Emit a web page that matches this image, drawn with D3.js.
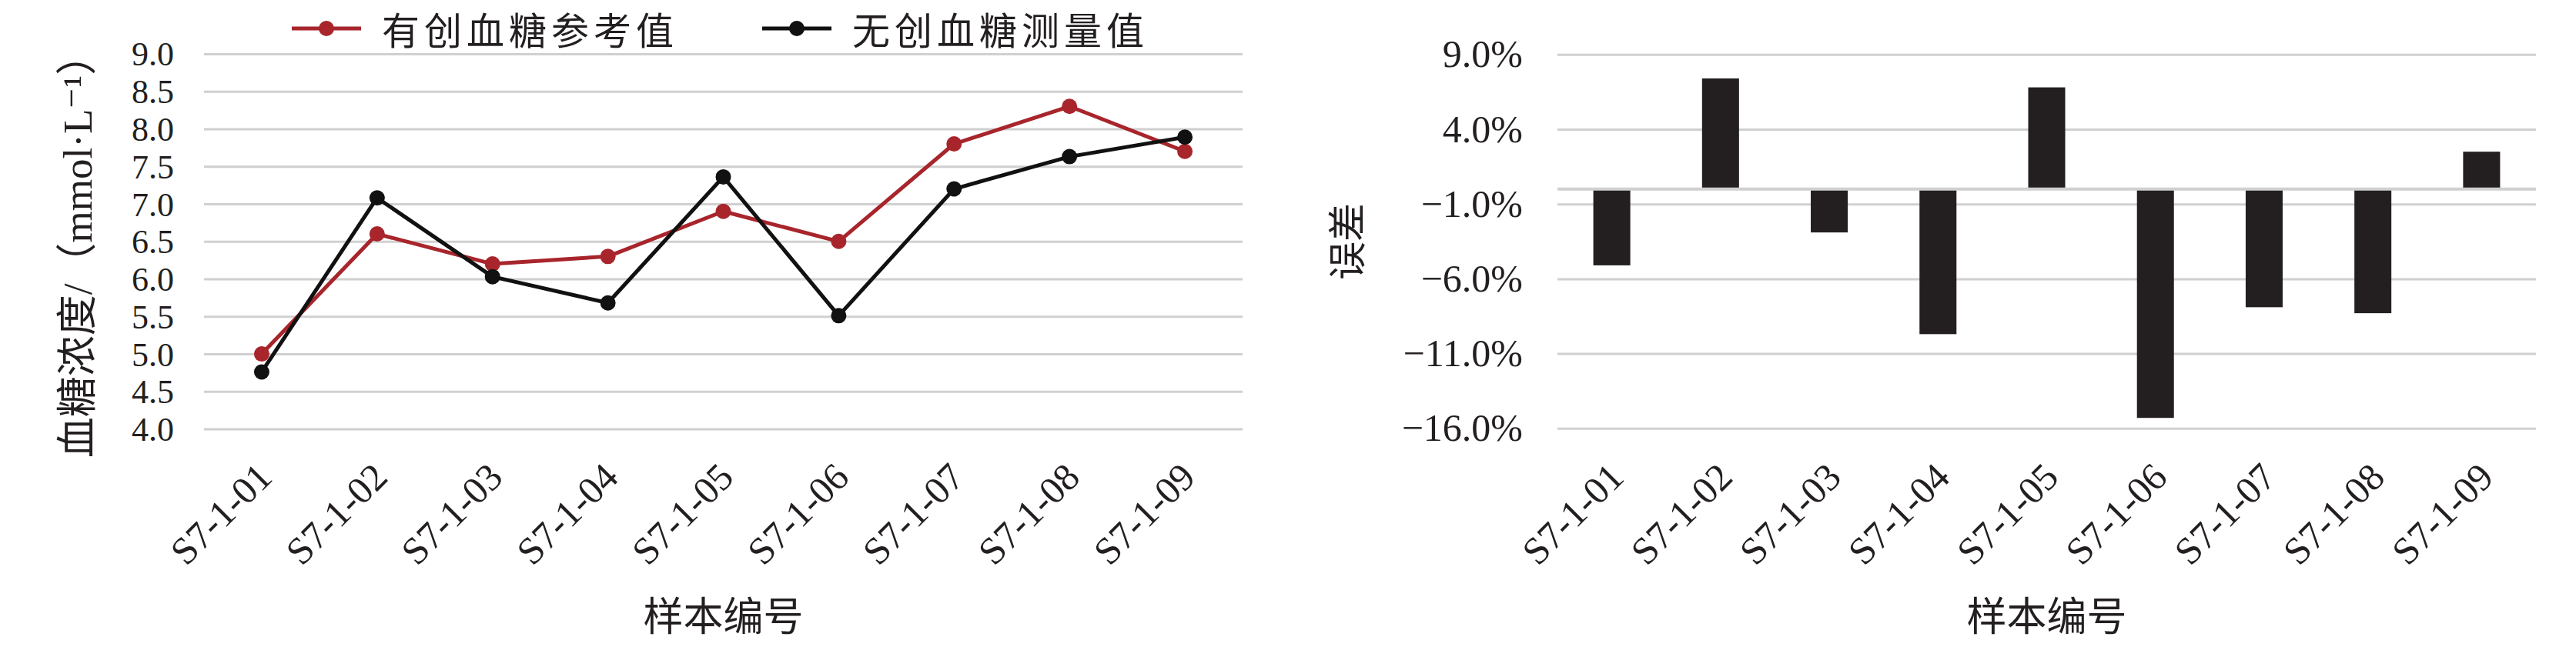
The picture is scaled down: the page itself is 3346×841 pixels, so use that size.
<!DOCTYPE html>
<html>
<head>
<meta charset="utf-8">
<script src="https://cdn.jsdelivr.net/npm/d3@7"></script>
<style>
  html, body { margin: 0; padding: 0; background: #fff; }
  svg { display: block; }
  .num { font-family: "Liberation Serif", "DejaVu Serif", "Noto Sans CJK SC", serif; fill: #231f20; }
  .cjk { font-family: "Noto Sans CJK SC", sans-serif; fill: #231f20; }
</style>
</head>
<body>
<svg id="chart" width="3346" height="841"></svg>
<script>
// ---------- data ----------
const categories = ["S7-1-01","S7-1-02","S7-1-03","S7-1-04","S7-1-05","S7-1-06","S7-1-07","S7-1-08","S7-1-09"];
const invasiveRef = [5.0, 6.6, 6.2, 6.3, 6.9, 6.5, 7.8, 8.3, 7.7];
const nonInvasive = [4.76, 7.08, 6.03, 5.68, 7.36, 5.51, 7.20, 7.63, 7.89];
const errorPct = [-5.1, 7.4, -2.9, -9.7, 6.8, -15.3, -7.9, -8.3, 2.5];
const leftTicks = [4.0, 4.5, 5.0, 5.5, 6.0, 6.5, 7.0, 7.5, 8.0, 8.5, 9.0];
const rightTicks = [-16, -11, -6, -1, 4, 9];
const seriesNames = ["有创血糖参考值", "无创血糖测量值"];

const RED = "#a8252c", BLACK = "#111111", BAR = "#231f20", GRID = "#d0d0d0";
const svg = d3.select("#chart");
svg.append("rect").attr("width", 3346).attr("height", 841).attr("fill", "#fff");

const fmtMinus = s => s.replace("-", "\u2212");

// ---------- left chart ----------
const L = {x0: 265, x1: 1614, y0: 70, y1: 557.6};
const xL = d3.scalePoint().domain(categories).range([L.x0, L.x1]).padding(0.5);
const yL = d3.scaleLinear().domain([4, 9]).range([L.y1, L.y0]);

const gL = svg.append("g");
gL.append("g")
  .attr("transform", `translate(${L.x0},0)`)
  .call(d3.axisLeft(yL).tickValues(leftTicks).tickSize(-(L.x1 - L.x0)).tickFormat(""))
  .call(g => g.select(".domain").remove())
  .call(g => g.selectAll("line").attr("stroke", GRID).attr("stroke-width", 3));
gL.append("g")
  .attr("transform", `translate(226,0)`)
  .call(d3.axisLeft(yL).tickValues(leftTicks).tickSize(0).tickPadding(0).tickFormat(d3.format(".1f")))
  .call(g => g.select(".domain").remove())
  .call(g => g.selectAll("text").attr("class", "num").attr("font-size", 44).attr("dy", "0.34em").attr("fill", "#231f20"));

const lineGen = d3.line().x((d, i) => xL(categories[i])).y(d => yL(d));
[[invasiveRef, RED], [nonInvasive, BLACK]].forEach(([vals, col]) => {
  gL.append("path").datum(vals).attr("d", lineGen)
    .attr("fill", "none").attr("stroke", col).attr("stroke-width", 5).attr("stroke-linejoin", "round");
  gL.selectAll(null).data(vals).enter().append("circle")
    .attr("cx", (d, i) => xL(categories[i])).attr("cy", d => yL(d)).attr("r", 10).attr("fill", col);
});

gL.selectAll(null).data(categories).enter().append("text")
  .attr("class", "num").attr("font-size", 50).attr("text-anchor", "end")
  .attr("transform", d => `translate(${xL(d) + 16},623) rotate(-45)`)
  .text(d => d);

gL.append("text").attr("class", "num").attr("font-size", 53)
  .attr("text-anchor", "middle").attr("transform", "translate(119,320) rotate(-90)")
  .text("血糖浓度/（mmol·L\u207B\u00B9）");

gL.append("text").attr("class", "cjk").attr("font-size", 52).attr("text-anchor", "middle")
  .attr("x", (L.x0 + L.x1) / 2).attr("y", 820).text("样本编号");

// legend
const legend = [{x: 379, col: RED, name: seriesNames[0]}, {x: 990, col: BLACK, name: seriesNames[1]}];
legend.forEach(l => {
  svg.append("line").attr("x1", l.x).attr("x2", l.x + 90).attr("y1", 37).attr("y2", 37)
    .attr("stroke", l.col).attr("stroke-width", 5);
  svg.append("circle").attr("cx", l.x + 45).attr("cy", 37).attr("r", 10).attr("fill", l.col);
  svg.append("text").attr("class", "cjk").attr("font-size", 49).attr("letter-spacing", 6)
    .attr("x", l.x + 117).attr("y", 58).text(l.name);
});

// ---------- right chart ----------
const R = {x0: 2023, x1: 3294, y0: 70.8, y1: 556.8};
const xR = d3.scaleBand().domain(categories).range([R.x0, R.x1]).paddingInner(0.66).paddingOuter(0.33);
const yR = d3.scaleLinear().domain([-16, 9]).range([R.y1, R.y0]);
const gR = svg.append("g");

gR.append("g")
  .attr("transform", `translate(${R.x0},0)`)
  .call(d3.axisLeft(yR).tickValues(rightTicks).tickSize(-(R.x1 - R.x0)).tickFormat(""))
  .call(g => g.select(".domain").remove())
  .call(g => g.selectAll("line").attr("stroke", GRID).attr("stroke-width", 3));

gR.append("g")
  .attr("transform", `translate(1978,0)`)
  .call(d3.axisLeft(yR).tickValues(rightTicks).tickSize(0).tickPadding(0)
    .tickFormat(d => fmtMinus(d3.format(".1f")(d)) + "%"))
  .call(g => g.select(".domain").remove())
  .call(g => g.selectAll("text").attr("class", "num").attr("font-size", 50).attr("dy", "0.32em").attr("fill", "#231f20"));

gR.selectAll(null).data(errorPct).enter().append("rect")
  .attr("x", (d, i) => xR(categories[i]))
  .attr("width", xR.bandwidth())
  .attr("y", d => d >= 0 ? yR(d) : yR(0))
  .attr("height", d => Math.abs(yR(d) - yR(0)))
  .attr("fill", BAR);

gR.append("line").attr("x1", R.x0).attr("x2", R.x1).attr("y1", yR(0)).attr("y2", yR(0))
  .attr("stroke", GRID).attr("stroke-width", 4);

gR.selectAll(null).data(categories).enter().append("text")
  .attr("class", "num").attr("font-size", 50).attr("text-anchor", "end")
  .attr("transform", d => `translate(${xR(d) + xR.bandwidth() / 2 + 18},623) rotate(-45)`)
  .text(d => d);

gR.append("text").attr("class", "cjk").attr("font-size", 50).attr("text-anchor", "middle")
  .attr("transform", "translate(1768,314) rotate(-90)").text("误差");

gR.append("text").attr("class", "cjk").attr("font-size", 52).attr("text-anchor", "middle")
  .attr("x", (R.x0 + R.x1) / 2).attr("y", 820).text("样本编号");
</script>
</body>
</html>
